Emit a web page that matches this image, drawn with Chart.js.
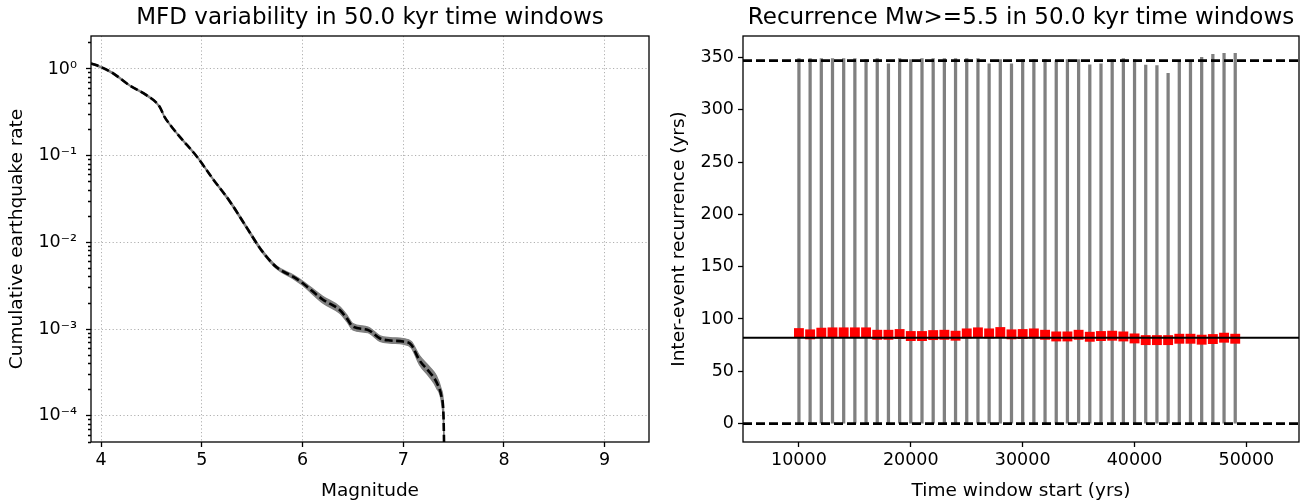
<!DOCTYPE html>
<html>
<head>
<meta charset="utf-8">
<title>MFD variability and recurrence</title>
<script src="https://cdn.jsdelivr.net/npm/chart.js@4.4.0/dist/chart.umd.min.js"></script>
<style>
  body { margin: 0; background: #fff; }
  #mfd { position: absolute; left: 0; top: 0; }
  #recurrence { position: absolute; left: 660px; top: 0; }
</style>
</head>
<body>
<canvas id="mfd" width="660" height="504"></canvas>
<canvas id="recurrence" width="646" height="504"></canvas>
<script>
// Cumulative MFD: mean curve and the spread over all time windows
const magnitudes = [3.90, 4.00, 4.12, 4.28, 4.45, 4.58, 4.63, 4.70, 4.78, 4.95, 5.11, 5.28, 5.44, 5.59, 5.74, 5.91, 6.00, 6.20, 6.37, 6.44, 6.50, 6.65, 6.77, 6.87, 7.00, 7.08, 7.16, 7.26, 7.33, 7.38, 7.40, 7.41];
const meanRate = [1.16, 1.05, 0.89, 0.65, 0.50, 0.37, 0.28, 0.216, 0.166, 0.098, 0.054, 0.0295, 0.0152, 0.0082, 0.0052, 0.0040, 0.0034, 0.0022, 0.00166, 0.00133, 0.00107, 0.00098, 0.00078, 0.00074, 0.00072, 0.00066, 0.00044, 0.00032, 0.000245, 0.000166, 0.000098, 0.00002];
const upperRate = [1.18, 1.07, 0.91, 0.66, 0.51, 0.377, 0.286, 0.220, 0.169, 0.100, 0.055, 0.0305, 0.0158, 0.0085, 0.0054, 0.0042, 0.0036, 0.0024, 0.00182, 0.00146, 0.00116, 0.00106, 0.00084, 0.00080, 0.00078, 0.00072, 0.00050, 0.00037, 0.00029, 0.00020, 0.00013, 0.00003];
const lowerRate = [1.14, 1.03, 0.87, 0.64, 0.49, 0.363, 0.274, 0.212, 0.163, 0.096, 0.053, 0.0285, 0.0146, 0.0079, 0.0050, 0.0038, 0.0032, 0.0020, 0.00152, 0.00122, 0.00098, 0.00091, 0.00072, 0.00069, 0.00067, 0.00061, 0.00039, 0.00028, 0.00021, 0.00014, 0.00007, 0.000015];
const magTicks = [4, 5, 6, 7, 8, 9];
const decades = [-5, -4, -3, -2, -1, 0];

// Inter-event recurrence of Mw>=5.5 for each 50 kyr window
const windowStarts = [10000, 11000, 12000, 13000, 14000, 15000, 16000, 17000, 18000, 19000,
  20000, 21000, 22000, 23000, 24000, 25000, 26000, 27000, 28000, 29000,
  30000, 31000, 32000, 33000, 34000, 35000, 36000, 37000, 38000, 39000,
  40000, 41000, 42000, 43000, 44000, 45000, 46000, 47000, 48000, 49000];
const recurrenceMax = [349, 349, 349, 349, 349, 349, 348, 349, 344, 349,
  348, 349, 349, 349, 349, 349, 349, 344, 348, 344,
  348, 348, 348, 347, 348, 348, 343, 344, 348, 349,
  348, 342.6, 342.3, 334.7, 346.8, 346.8, 350, 353, 354, 354];
const recurrenceMin = [0, 0, 0, 0, 0, 0, 0, 0, 0, 0,
  0, 0, 0, 0, 0, 0, 0, 0, 0, 0,
  0, 0, 0, 0, 0, 0, 0, 0, 0, 0,
  0, 0, 0, 0, 0, 0, 0, 0, 0, 0];
const recurrenceMean = [86.5, 85.3, 86.9, 87.2, 87.2, 87.2, 87.2, 84.9, 84.9, 85.6,
  83.7, 83.7, 84.6, 84.9, 84.0, 86.2, 87.2, 86.2, 87.5, 85.3,
  85.6, 86.2, 84.9, 83.3, 83.3, 84.9, 83.0, 83.7, 84.0, 83.3,
  81.4, 79.8, 79.8, 79.8, 81.1, 81.1, 80.2, 80.8, 82.1, 81.1];
const overallMean = 82.1;
const maxLevel = 347;
const minLevel = 0;
const timeTicks = [10000, 20000, 30000, 40000, 50000];
const recurrenceTicks = [0, 50, 100, 150, 200, 250, 300, 350];

const TIME_MIN = 5000, TIME_MAX = 54700;

Chart.defaults.font.family = "'DejaVu Sans', Verdana, sans-serif";
Chart.defaults.color = '#000';
Chart.defaults.animation = false;

const TICK_FONT = { size: 17.5 };
const LABEL_FONT = { size: 18.5 };
const TITLE_FONT = { size: 23, weight: 'normal' };

// closed box around the plotting area, like matplotlib spines
const frame = {
  id: 'frame',
  afterDraw(chart) {
    const { ctx, chartArea: a } = chart;
    ctx.save();
    ctx.strokeStyle = '#000';
    ctx.lineWidth = 1.3;
    ctx.strokeRect(a.left, a.top, a.right - a.left, a.bottom - a.top);
    ctx.restore();
  }
};

const SUP = { '-': '\u207B', '0': '\u2070', '1': '\u00B9', '2': '\u00B2', '3': '\u00B3', '4': '\u2074', '5': '\u2075' };
function powerLabel(v) {
  const e = String(Math.round(Math.log10(v)));
  return '10' + e.split('').map(c => SUP[c]).join('');
}

function toPoints(xs, ys) {
  return xs.map((x, i) => ({ x: x, y: ys[i] }));
}

function fixedTicks(values) {
  return scale => { scale.ticks = values.map(v => ({ value: v })); };
}

// title box sits over the plot area only, not the whole canvas
function titleOf(text) {
  return {
    display: true,
    text: text,
    font: TITLE_FONT,
    fullSize: false,
    padding: { top: 4, bottom: 4.4 }
  };
}

new Chart(document.getElementById('mfd'), {
  type: 'line',
  data: {
    datasets: [
      {
        label: 'mean',
        data: toPoints(magnitudes, meanRate),
        borderColor: '#000',
        borderWidth: 2.6,
        borderDash: [8, 3.5],
        pointRadius: 0,
        fill: false,
        cubicInterpolationMode: 'monotone',
        order: 0
      },
      {
        label: 'upper',
        data: toPoints(magnitudes, upperRate),
        borderColor: '#808080',
        backgroundColor: '#808080',
        borderWidth: 1.2,
        pointRadius: 0,
        fill: '+1',
        cubicInterpolationMode: 'monotone',
        order: 1
      },
      {
        label: 'lower',
        data: toPoints(magnitudes, lowerRate),
        borderColor: '#808080',
        borderWidth: 1.2,
        pointRadius: 0,
        fill: false,
        cubicInterpolationMode: 'monotone',
        order: 1
      }
    ]
  },
  options: {
    responsive: false,
    layout: { padding: { left: 0, right: 11, top: 0, bottom: 0 } },
    plugins: {
      legend: { display: false },
      tooltip: { enabled: false },
      title: titleOf('MFD variability in 50.0 kyr time windows')
    },
    scales: {
      x: {
        type: 'linear',
        min: 3.9,
        max: 9.44,
        afterFit(scale) { scale.height = 62; },
        afterBuildTicks: fixedTicks(magTicks),
        ticks: { font: TICK_FONT, padding: 3 },
        grid: { color: '#b0b0b0', tickColor: '#000', tickLength: 5, tickWidth: 1.3 },
        border: { display: false, dash: [1.2, 2.4] },
        title: { display: true, text: 'Magnitude', font: LABEL_FONT, padding: { top: 0, bottom: 2 } }
      },
      y: {
        type: 'logarithmic',
        min: 5.0e-5,
        max: 2.4,
        afterFit(scale) { scale.width = 91; },
        afterBuildTicks(scale) {
          const ticks = [];
          decades.forEach(e => {
            for (let k = 1; k <= 9; k++) {
              const v = k * Math.pow(10, e);
              if (v >= scale.min && v <= scale.max) ticks.push({ value: v, major: k === 1 });
            }
          });
          scale.ticks = ticks;
        },
        ticks: {
          autoSkip: false,
          font: TICK_FONT,
          padding: 9,
          callback: (v, i, ticks) => ticks[i].major ? powerLabel(v) : ''
        },
        grid: {
          color: ctx => ctx.tick && ctx.tick.major ? '#b0b0b0' : 'rgba(0,0,0,0)',
          tickColor: '#000',
          tickLength: 5,
          tickWidth: 1.3,
          tickBorderDash: ctx => ctx.tick && ctx.tick.major ? [] : [0, 2, 20]
        },
        border: { display: false, dash: [1.2, 2.4] },
        title: { display: true, text: 'Cumulative earthquake rate', font: LABEL_FONT, padding: { top: 6, bottom: 0 } }
      }
    }
  },
  plugins: [frame]
});

new Chart(document.getElementById('recurrence'), {
  type: 'scatter',
  data: {
    datasets: [
      {
        type: 'line',
        label: 'overall mean',
        data: [{ x: TIME_MIN, y: overallMean }, { x: TIME_MAX, y: overallMean }],
        borderColor: '#000',
        borderWidth: 2,
        pointRadius: 0,
        order: 1
      },
      {
        type: 'line',
        label: 'max level',
        data: [{ x: TIME_MIN, y: maxLevel }, { x: TIME_MAX, y: maxLevel }],
        borderColor: '#000',
        borderWidth: 2.6,
        borderDash: [9, 4],
        pointRadius: 0,
        order: 1
      },
      {
        type: 'line',
        label: 'min level',
        data: [{ x: TIME_MIN, y: minLevel }, { x: TIME_MAX, y: minLevel }],
        borderColor: '#000',
        borderWidth: 2.6,
        borderDash: [9, 4],
        pointRadius: 0,
        order: 1
      },
      {
        type: 'scatter',
        label: 'mean recurrence',
        data: toPoints(windowStarts, recurrenceMean),
        pointStyle: 'rect',
        pointRadius: 7,
        pointBorderWidth: 0,
        backgroundColor: '#ff0000',
        borderColor: '#ff0000',
        order: 2
      },
      {
        type: 'bar',
        label: 'range',
        data: windowStarts.map((x, i) => ({ x: x, y: [recurrenceMin[i], recurrenceMax[i]] })),
        backgroundColor: '#808080',
        barThickness: 2.6,
        order: 3
      }
    ]
  },
  options: {
    responsive: false,
    layout: { padding: { left: 0, right: 5, top: 0, bottom: 0 } },
    plugins: {
      legend: { display: false },
      tooltip: { enabled: false },
      title: titleOf('Recurrence Mw>=5.5 in 50.0 kyr time windows')
    },
    scales: {
      x: {
        type: 'linear',
        min: TIME_MIN,
        max: TIME_MAX,
        offset: false,
        afterFit(scale) { scale.height = 62; },
        afterBuildTicks: fixedTicks(timeTicks),
        ticks: { font: TICK_FONT, padding: 3, callback: v => String(v) },
        grid: { offset: false, drawOnChartArea: false, tickColor: '#000', tickLength: 5, tickWidth: 1.3 },
        border: { display: false },
        title: { display: true, text: 'Time window start (yrs)', font: LABEL_FONT, padding: { top: 0, bottom: 2 } }
      },
      y: {
        type: 'linear',
        min: -17.6,
        max: 370.5,
        afterFit(scale) { scale.width = 83; },
        afterBuildTicks: fixedTicks(recurrenceTicks),
        ticks: { font: TICK_FONT, padding: 4 },
        grid: { drawOnChartArea: false, tickColor: '#000', tickLength: 5, tickWidth: 1.3 },
        border: { display: false },
        title: { display: true, text: 'Inter-event recurrence (yrs)', font: LABEL_FONT, padding: { top: 8, bottom: 0 } }
      }
    }
  },
  plugins: [frame]
});
</script>
</body>
</html>
